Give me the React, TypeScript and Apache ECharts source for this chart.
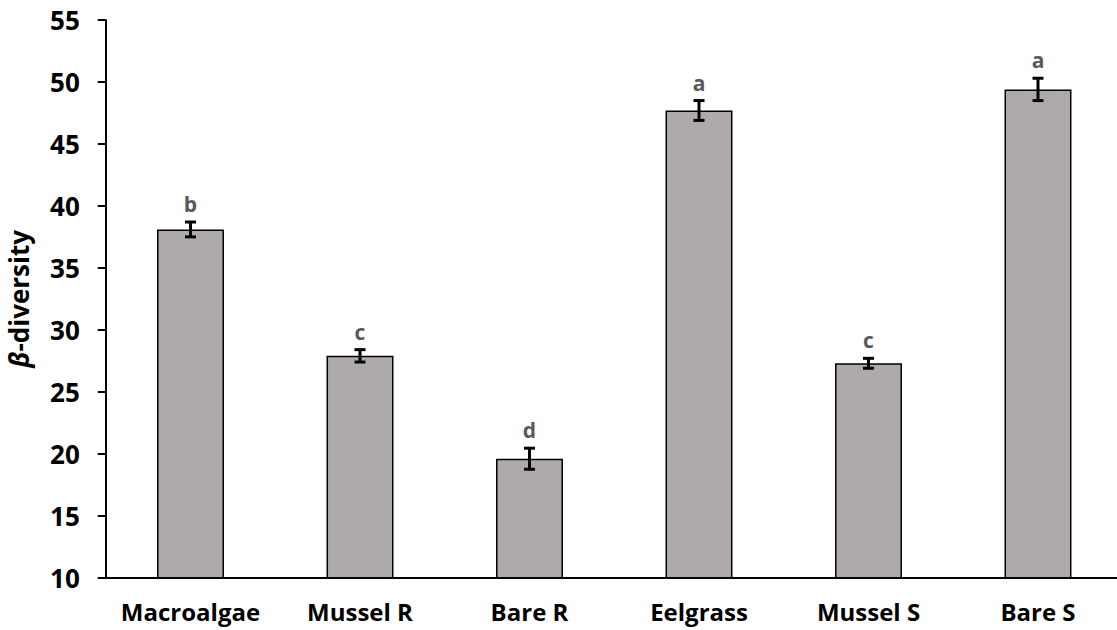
import React, { useEffect, useRef } from "react";
import * as echarts from "echarts";

const categories = ["Macroalgae", "Mussel R", "Bare R", "Eelgrass", "Mussel S", "Bare S"];
const means = [38.1, 27.9, 19.6, 47.7, 27.3, 49.4];
const errors = [0.6, 0.5, 0.85, 0.8, 0.4, 0.9];
const letters = ["b", "c", "d", "a", "c", "a"];
const yTicks = { min: 10, max: 55, interval: 5 };

const FONT = "'Open Sans', 'Noto Sans', sans-serif";

export default function App() {
  const ref = useRef<HTMLDivElement>(null);
  useEffect(() => {
    if (!ref.current) return;
    const chart = echarts.init(ref.current, null, { renderer: "svg" });
    const errData = categories.map((_, i) => [i, means[i] - errors[i], means[i] + errors[i], i]);
    chart.setOption({
      animation: false,
      backgroundColor: "#ffffff",
      grid: {
        left: 105.75,
        right: -5.75,
        top: 20,
        bottom: 52.3,
        containLabel: false,
        outerBoundsMode: "none",
      },
      xAxis: {
        type: "category",
        data: categories,
        axisLine: { lineStyle: { color: "#000", width: 2 } },
        axisTick: { show: false },
        axisLabel: {
          interval: 0,
          hideOverlap: false,
          color: "#000",
          fontFamily: FONT,
          fontWeight: "bold",
          fontSize: 24,
          margin: 22,
        },
      },
      yAxis: {
        type: "value",
        min: yTicks.min,
        max: yTicks.max,
        interval: yTicks.interval,
        splitLine: { show: false },
        axisLine: { show: true, lineStyle: { color: "#000", width: 2 } },
        axisTick: { show: true, inside: false, length: 8, lineStyle: { color: "#000", width: 2 } },
        axisLabel: { color: "#000", fontFamily: FONT, fontWeight: "bold", fontSize: 26, margin: 26 },
        name: "{g|β}-diversity",
        nameLocation: "middle",
        nameGap: 72,
        nameRotate: 90,
        nameTextStyle: {
          color: "#000",
          fontFamily: FONT,
          fontWeight: "bold",
          fontSize: 26,
          lineHeight: 30,
          rich: {
            g: { fontFamily: FONT, fontWeight: "bold", fontStyle: "italic", fontSize: 26, lineHeight: 30, color: "#000" },
          },
        },
      },
      series: [
        {
          type: "bar",
          data: means,
          barWidth: "39.5%",
          itemStyle: { color: "#AEAAAA", borderColor: "#000", borderWidth: 1.5 },
        },
        {
          type: "custom",
          data: errData,
          z: 10,
          renderItem: (params: any, api: any) => {
            const x = api.value(0);
            const lo = api.coord([x, api.value(1)]);
            const hi = api.coord([x, api.value(2)]);
            const idx = api.value(3);
            const cap = 5.5;
            const style = { stroke: "#000", lineWidth: 3 };
            return {
              type: "group",
              children: [
                { type: "line", shape: { x1: hi[0], y1: hi[1], x2: lo[0], y2: lo[1] }, style },
                { type: "line", shape: { x1: hi[0] - cap, y1: hi[1], x2: hi[0] + cap, y2: hi[1] }, style },
                { type: "line", shape: { x1: lo[0] - cap, y1: lo[1], x2: lo[0] + cap, y2: lo[1] }, style },
                {
                  type: "text",
                  x: hi[0],
                  y: hi[1] - 18,
                  style: {
                    text: letters[idx],
                    fill: "#595959",
                    font: `bold 21px ${FONT}`,
                    align: "center",
                    verticalAlign: "middle",
                  },
                },
              ],
            };
          },
        },
      ],
    });
    return () => chart.dispose();
  }, []);
  return <div ref={ref} style={{ width: 1117, height: 630, position: "absolute", left: 0, top: 0 }} />;
}
